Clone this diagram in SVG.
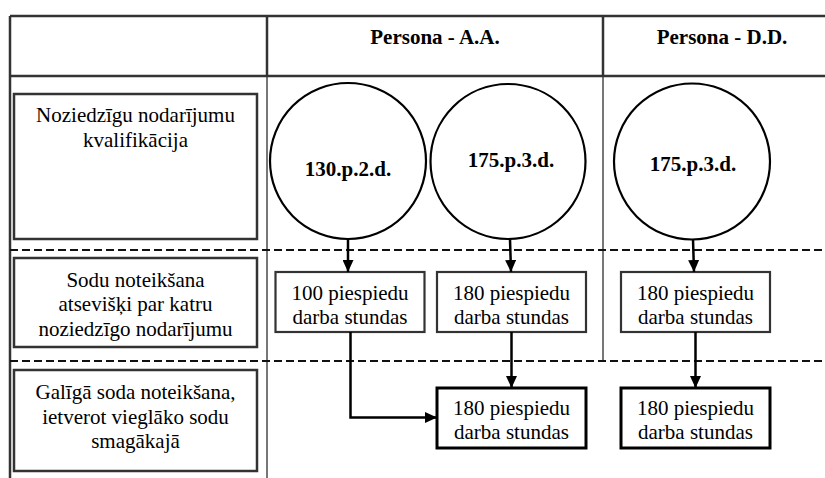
<svg xmlns="http://www.w3.org/2000/svg" width="825" height="478" viewBox="0 0 825 478">
<defs>
<style>
text{font-family:"Liberation Serif","Times New Roman",serif;font-size:21px;fill:#000;text-anchor:middle}
.b{font-weight:bold}
.grid{stroke:#333;stroke-width:2.5;fill:none}
.gridl{stroke:#777;stroke-width:2;fill:none}
.dash{stroke:#111;stroke-width:2;stroke-dasharray:8 4;fill:none}
.lbox{fill:#fff;stroke:#333;stroke-width:2.5}
.circ{fill:#fff;stroke:#000;stroke-width:2.2}
.box2{fill:#fff;stroke:#333;stroke-width:2.2}
.box3{fill:#fff;stroke:#000;stroke-width:3}
.conn{stroke:#000;stroke-width:2.5;fill:none;marker-end:url(#ah)}
</style>
<marker id="ah" markerUnits="userSpaceOnUse" markerWidth="12" markerHeight="11" refX="12" refY="5.5" orient="auto">
<path d="M0,0 L12,5.5 L0,11 z" fill="#000"/>
</marker>
</defs>
<rect width="825" height="478" fill="#fff"/>
<g id="table">
<line class="gridl" x1="267" y1="76" x2="267" y2="478"/>
<line class="gridl" x1="603" y1="76" x2="603" y2="361"/>
<line class="grid" x1="10" y1="16" x2="825" y2="16"/>
<line class="grid" x1="10" y1="76" x2="825" y2="76"/>
<line class="grid" x1="10" y1="16" x2="10" y2="478"/>
<line class="grid" x1="267" y1="16" x2="267" y2="76"/>
<line class="grid" x1="603" y1="16" x2="603" y2="76"/>
<line class="dash" x1="10" y1="250" x2="825" y2="250"/>
<line class="dash" x1="10" y1="361" x2="825" y2="361"/>
<text class="b" x="435" y="44">Persona - A.A.</text>
<text class="b" x="722" y="44">Persona - D.D.</text>
</g>
<g id="row1-label">
<rect class="lbox" x="14" y="94" width="243" height="145"/>
<text x="135.5" y="122">Noziedzīgu nodarījumu</text>
<text x="135.5" y="147">kvalifikācija</text>
</g>
<g id="row2-label">
<rect class="lbox" x="14" y="258" width="243" height="89"/>
<text x="135.5" y="287">Sodu noteikšana</text>
<text x="135.5" y="311">atsevišķi par katru</text>
<text x="135.5" y="336">noziedzīgo nodarījumu</text>
</g>
<g id="row3-label">
<rect class="lbox" x="14" y="370" width="243" height="101"/>
<text x="135.5" y="399">Galīgā soda noteikšana,</text>
<text x="135.5" y="424">ietverot vieglāko sodu</text>
<text x="135.5" y="448">smagākajā</text>
</g>
<g id="c1">
<circle class="circ" cx="348" cy="161" r="78"/>
<text class="b" x="348" y="176">130.p.2.d.</text>
</g>
<g id="c2">
<circle class="circ" cx="508" cy="161.5" r="77.5"/>
<text class="b" x="511" y="167">175.p.3.d.</text>
</g>
<g id="c3">
<circle class="circ" cx="692" cy="161.5" r="78"/>
<text class="b" x="693" y="171">175.p.3.d.</text>
</g>
<g id="b1">
<rect class="box2" x="275.5" y="272" width="149" height="60"/>
<text x="350" y="300">100 piespiedu</text>
<text x="350" y="324">darba stundas</text>
</g>
<g id="b2">
<rect class="box2" x="437" y="272" width="149" height="60"/>
<text x="511.5" y="300">180 piespiedu</text>
<text x="511.5" y="324">darba stundas</text>
</g>
<g id="b3">
<rect class="box2" x="621" y="272" width="149" height="60"/>
<text x="695.5" y="300">180 piespiedu</text>
<text x="695.5" y="324">darba stundas</text>
</g>
<g id="f1">
<rect class="box3" x="437" y="388" width="149" height="60"/>
<text x="511.5" y="415">180 piespiedu</text>
<text x="511.5" y="439">darba stundas</text>
</g>
<g id="f2">
<rect class="box3" x="621" y="388" width="149" height="60"/>
<text x="695.5" y="415">180 piespiedu</text>
<text x="695.5" y="439">darba stundas</text>
</g>
<g id="connectors">
<path class="conn" d="M348,239 L348,272"/>
<path class="conn" d="M510,239 L511,272"/>
<path class="conn" d="M693,239 L694,272"/>
<path class="conn" d="M511.5,332 L511.5,388"/>
<path class="conn" d="M695.5,332 L695.5,388"/>
<path class="conn" d="M350.5,332 L350.5,417.5 L437,417.5"/>
</g>
</svg>
